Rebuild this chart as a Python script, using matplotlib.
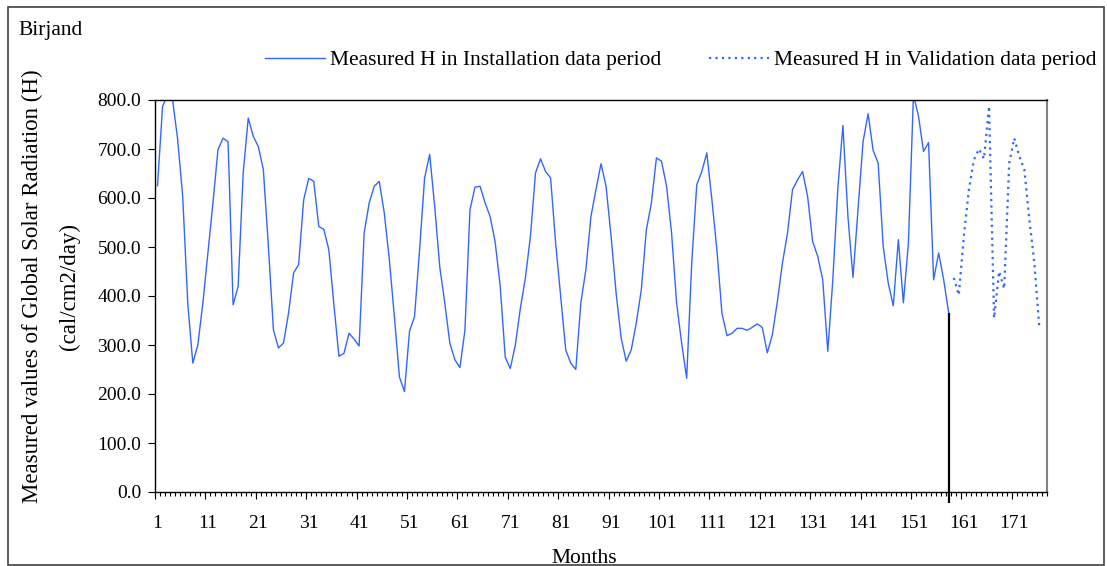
import matplotlib
matplotlib.use("Agg")
import matplotlib.pyplot as plt
from matplotlib.patches import Rectangle
from matplotlib.ticker import FixedLocator, NullFormatter

plt.rcParams['font.family'] = ['Liberation Serif', 'DejaVu Serif']

# monthly global solar radiation, Birjand (cal/cm2/day)
installation = [
    625, 787, 810, 800, 719, 603, 386, 263, 300, 386,
    488, 590, 699, 722, 715, 382, 420, 651, 763, 726,
    705, 658, 501, 331, 294, 304, 365, 447, 464, 596,
    640, 634, 542, 536, 494, 382, 277, 283, 324, 312,
    298, 528, 590, 624, 634, 569, 474, 358, 235, 205,
    328, 358, 494, 641, 689, 583, 460, 386, 304, 270,
    254, 330, 576, 622, 624, 590, 562, 510, 420, 275,
    252, 300, 375, 437, 522, 651, 680, 654, 641, 508,
    399, 290, 263, 250, 386, 454, 562, 617, 670, 624,
    522, 406, 314, 267, 290, 345, 413, 535, 590, 682,
    675, 625, 529, 386, 304, 232, 467, 627, 654, 692,
    597, 494, 365, 319, 324, 334, 334, 330, 336, 343,
    336, 284, 321, 389, 467, 528, 617, 637, 654, 603,
    511, 481, 433, 287, 433, 620, 748, 562, 438, 576,
    715, 772, 697, 671, 501, 426, 380, 515, 386, 508,
    810, 767, 695, 713, 433, 488, 433, 365,
]
validation = [437, 402, 522, 617, 678, 700, 680, 787, 355, 450,
              415, 671, 722, 685, 658, 556, 467, 333]

n_inst = len(installation)
months_inst = list(range(1, n_inst + 1))
months_val = list(range(n_inst + 1, n_inst + 1 + len(validation)))
n_cat = 177

tick_months = list(range(1, 172, 10))
y_ticks = [0, 100, 200, 300, 400, 500, 600, 700, 800]

blue = '#3366ff'

fig = plt.figure(figsize=(11.07, 5.66), dpi=100)
W, H = 1107, 566
ax = fig.add_axes([155 / W, 1 - 492 / H, (1047 - 155) / W, (492 - 100) / H])

ax.plot(months_inst, installation, color=blue, lw=1.0,
        label='Measured H in Installation data period')
ax.plot(months_val, validation, color=blue, lw=1.6, ls=(0, (1, 1.9)),
        label='Measured H in Validation data period')
# split line between installation and validation periods
ax.plot([n_inst, n_inst], [installation[-1], -22], color='black', lw=1.6,
        clip_on=False, solid_capstyle='butt')

ax.set_xlim(0.5, n_cat + 0.5)
ax.set_ylim(0, 800)

ax.set_yticks(y_ticks)
ax.set_yticklabels([f'{v:.1f}' for v in y_ticks])
ax.set_xticks(tick_months)
ax.set_xticklabels([str(m) for m in tick_months])
ax.xaxis.set_minor_locator(FixedLocator([k + 0.5 for k in range(0, n_cat + 1)]))
ax.xaxis.set_minor_formatter(NullFormatter())
ax.tick_params(axis='x', which='major', length=0, pad=16.5, labelsize=14)
ax.tick_params(axis='x', which='minor', length=3, width=0.8, direction='out')
ax.tick_params(axis='y', length=5, width=0.8, direction='out', pad=5, labelsize=14)

# longer ticks every 10 categories
sec = ax.secondary_xaxis('bottom')
sec.set_xticks([k + 0.5 for k in range(0, n_cat + 1, 10)])
sec.set_xticklabels([])
sec.tick_params(length=5, width=0.8, direction='out')
sec.spines['bottom'].set_visible(False)

for s in ['left', 'bottom', 'top']:
    ax.spines[s].set_color('black')
    ax.spines[s].set_linewidth(1.0)
ax.spines['right'].set_color('#808080')
ax.spines['right'].set_linewidth(1.5)

fig.text(32 / W, 1 - 286 / H, 'Measured values of Global Solar Radiation (H)',
         rotation=90, ha='center', va='center', fontsize=16.5)
fig.text(69 / W, 1 - 286 / H, '(cal/cm2/day)',
         rotation=90, ha='center', va='center', fontsize=16.5)
fig.text(584 / W, 1 - 563 / H, 'Months', ha='center', va='baseline',
         fontsize=15.5, zorder=1)
fig.text(18 / W, 1 - 35 / H, 'Birjand', ha='left', va='baseline', fontsize=15.5)

ax.legend(loc='center left', bbox_to_anchor=(265 / W, 1 - 60 / H),
          bbox_transform=fig.transFigure, ncol=2, frameon=False,
          fontsize=15.5, handlelength=2.8, handletextpad=0.23,
          columnspacing=2.2, borderpad=0, borderaxespad=0)

fig.add_artist(Rectangle((8 / W, 1 - 565 / H), (1104 - 8) / W, (565 - 7) / H,
                         transform=fig.transFigure, fill=False,
                         ec='#404040', lw=1.2, zorder=5))

fig.savefig('out.png', dpi=100)
